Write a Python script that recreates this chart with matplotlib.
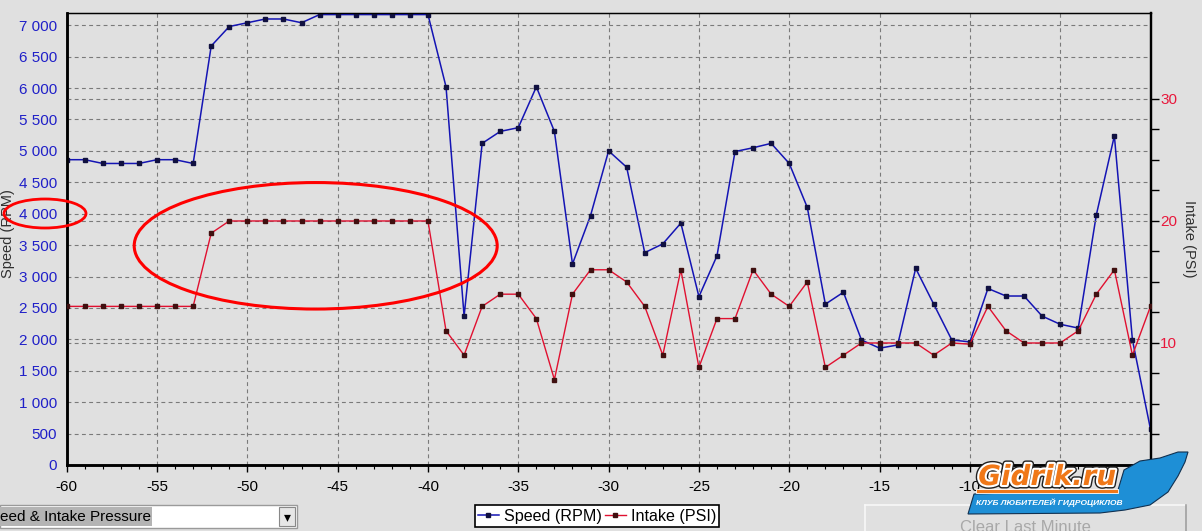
import matplotlib
matplotlib.use('Agg')
import matplotlib.pyplot as plt
import matplotlib.patheffects as pe
from matplotlib.ticker import MultipleLocator, FuncFormatter, FixedLocator
from matplotlib.patches import Ellipse, Rectangle, Polygon
from matplotlib.lines import Line2D

# ---------------- data ----------------
seconds = list(range(-60, 1))
speed_rpm = [4860, 4860, 4800, 4800, 4800, 4860, 4860, 4800, 6670, 6980,
             7040, 7100, 7100, 7040, 7170, 7170, 7170, 7170, 7170, 7170,
             7170, 6020, 2370, 5120, 5310, 5370, 6020, 5310, 3200, 3970,
             5000, 4740, 3380, 3520, 3850, 2680, 3330, 4990, 5050, 5120,
             4800, 4100, 2560, 2750, 1990, 1860, 1910, 3130, 2560, 1990,
             1960, 2810, 2690, 2690, 2370, 2240, 2180, 3980, 5240, 1990,
             570]
intake_psi = [13, 13, 13, 13, 13, 13, 13, 13, 19, 20,
              20, 20, 20, 20, 20, 20, 20, 20, 20, 20,
              20, 11, 9, 13, 14, 14, 12, 7, 14, 16,
              16, 15, 13, 9, 16, 8, 12, 12, 16, 14,
              13, 15, 8, 9, 10, 10, 10, 10, 9, 10,
              9.9, 13, 11, 10, 10, 10, 11, 14, 16, 9,
              13]
x_ticks = [-60, -55, -50, -45, -40, -35, -30, -25, -20, -15, -10, -5, 0]
rpm_ticks = list(range(0, 7001, 500))
psi_ticks = [10, 20, 30]
psi_minor_ticks = [2.5, 5, 7.5, 12.5, 15, 17.5, 22.5, 25, 27.5]
series_labels = ['Speed (RPM)', 'Intake (PSI)']

plt.rcParams['font.family'] = ['Liberation Sans', 'DejaVu Sans']
plt.rcParams['axes.unicode_minus'] = False

W, H = 1202, 531
BG = '#e0e0e0'
fig = plt.figure(figsize=(W / 100, H / 100), dpi=100, facecolor=BG)

def fx(px):
    return px / W

def fy(py):
    return 1 - py / H

L, R, T, B = 66.7, 1150.5, 12.7, 465.0
ax = fig.add_axes([fx(L), fy(B), fx(R) - fx(L), fy(T) - fy(B)], facecolor=BG)
ax2 = ax.twinx()

BLUE = '#1414b4'
RED = '#e01030'
blue_line, = ax.plot(seconds, speed_rpm, color=BLUE, lw=1.1, marker='s',
                     ms=2.6, mfc='#101040', mec='#101040', zorder=5)
red_line, = ax2.plot(seconds, intake_psi, color=RED, lw=1.0, marker='s',
                     ms=2.6, mfc='#401010', mec='#401010', zorder=5)

ax.set_xlim(-60, 0)
ax.set_ylim(0, 7200)
ax2.set_ylim(0, 37.07)

# grid
dash = (0, (3.5, 3.0))
for xv in x_ticks[1:-1]:
    ax.axvline(xv, color='#7a7a7a', lw=0.8, ls=dash, zorder=1)
for yv in rpm_ticks[1:]:
    ax.axhline(yv, color='#7a7a7a', lw=0.8, ls=dash, zorder=1)
for pv in psi_ticks:
    ax2.axhline(pv, color='#7a7a7a', lw=0.8, ls=dash, zorder=1)

# ticks
ax.xaxis.set_major_locator(FixedLocator(x_ticks))
ax.xaxis.set_minor_locator(MultipleLocator(1))
ax.tick_params(axis='x', which='major', length=5, width=1, direction='out',
               labelsize=11, labelcolor='black', pad=6)
ax.tick_params(axis='x', which='minor', length=3, width=0.8, direction='out')
ax.yaxis.set_major_locator(FixedLocator(rpm_ticks))
ax.yaxis.set_major_formatter(FuncFormatter(lambda v, p: f'{int(v):,}'.replace(',', ' ')))
ax.tick_params(axis='y', which='major', length=0, labelsize=11,
               labelcolor='#2020c8', pad=7)
ax2.yaxis.set_major_locator(FixedLocator(psi_ticks))
ax2.yaxis.set_minor_locator(FixedLocator(psi_minor_ticks))
ax2.tick_params(axis='y', which='major', length=6, width=1, direction='out',
                labelsize=11, labelcolor='#e8183c', pad=1)
ax2.tick_params(axis='y', which='minor', length=6, width=1, direction='out')

# axis titles
fig.text(fx(8), fy(234), 'Speed (RPM)', fontsize=10.5, color='#303030',
         rotation=90, ha='center', va='center')
fig.text(fx(1189), fy(239), 'Intake (PSI)', fontsize=10.5, color='#303030',
         rotation=270, ha='center', va='center')

for a in (ax, ax2):
    a.spines['left'].set_linewidth(1.8)
    a.spines['bottom'].set_linewidth(1.8)
    a.spines['right'].set_linewidth(1.6)
    a.spines['top'].set_linewidth(0.9)
    for s in a.spines.values():
        s.set_color('black')

# annotation ellipses (figure pixel geometry)
e1 = Ellipse((fx(45), fy(213.5)), 82 / W, 29 / H, transform=fig.transFigure,
             fill=False, edgecolor='#ff0000', lw=2.0, zorder=20)
e2 = Ellipse((fx(315.7), fy(245.8)), 363 / W, 126.5 / H,
             transform=fig.transFigure, fill=False, edgecolor='#ff0000',
             lw=2.2, zorder=20)
fig.add_artist(e1)
fig.add_artist(e2)

# legend box
leg = fig.legend([blue_line, red_line], series_labels, loc='center',
                 bbox_to_anchor=(fx(597), fy(516)), ncol=2, fancybox=False,
                 edgecolor='black', facecolor='white', framealpha=1,
                 handlelength=1.3, columnspacing=0.2, handletextpad=0.3,
                 borderpad=0.2, fontsize=11.6, markerscale=1.0)
leg.get_frame().set_linewidth(1.2)

# combo box (bottom left)
fig.add_artist(Rectangle((fx(0), fy(528)), fx(297), (528 - 505) / H,
                         transform=fig.transFigure, facecolor='white',
                         edgecolor='#9a9a9a', lw=1))
fig.add_artist(Rectangle((fx(0), fy(526)), fx(152), (526 - 507) / H,
                         transform=fig.transFigure, facecolor='#b4b4b4',
                         edgecolor='none'))
fig.text(fx(0), fy(517), 'eed & Intake Pressure', fontsize=11,
         color='black', va='center', ha='left')
fig.add_artist(Rectangle((fx(279), fy(526)), fx(16), (526 - 507) / H,
                         transform=fig.transFigure, facecolor='#e6e6e6',
                         edgecolor='#888888', lw=0.8))
fig.text(fx(287), fy(517), '▾', fontsize=10, color='black', va='center',
         ha='center', family='DejaVu Sans')

# "Clear Last Minute" button (cut by the window edge, as in the screenshot)
fig.add_artist(Line2D([fx(865), fx(1186)], [fy(505), fy(505)],
                      transform=fig.transFigure, color='#f8f8f8', lw=1.2))
fig.add_artist(Line2D([fx(865), fx(865)], [fy(505), fy(531)],
                      transform=fig.transFigure, color='#f8f8f8', lw=1.2))
fig.add_artist(Line2D([fx(1186), fx(1186)], [fy(505), fy(531)],
                      transform=fig.transFigure, color='#a0a0a0', lw=1.2))
fig.text(fx(1025), fy(520), 'Clear Last Minute', fontsize=12,
         color='#a8a8a8', va='top', ha='center')

# watermark logo
blue_shape = [(968, 514), (974, 494), (1118, 490), (1124, 470), (1140, 461),
              (1160, 458), (1178, 452), (1188, 452), (1185, 462), (1178, 476),
              (1168, 492), (1150, 505), (1125, 510), (1100, 513)]
fig.add_artist(Polygon([(fx(a), fy(b)) for a, b in blue_shape],
                       closed=True, transform=fig.transFigure,
                       facecolor='#1e8fd6', edgecolor='#103050', lw=0.8,
                       zorder=30))
fig.add_artist(Rectangle((fx(976), fy(493)), fx(142), 4 / H,
                         transform=fig.transFigure, facecolor='#f07818',
                         edgecolor='white', lw=0.6, zorder=31))
fig.text(fx(1047), fy(477), 'Gidrik.ru', fontsize=20, fontweight='bold',
         fontstyle='italic', color='#f07818', ha='center', va='center',
         zorder=32, family='DejaVu Sans',
         path_effects=[pe.Stroke(linewidth=5, foreground='#202020'),
                       pe.Stroke(linewidth=3, foreground='white'),
                       pe.Normal()])
fig.text(fx(1049), fy(503), 'КЛУБ ЛЮБИТЕЛЕЙ ГИДРОЦИКЛОВ', fontsize=6.0,
         fontweight='bold', fontstyle='italic', color='white', ha='center',
         va='center', zorder=32)

fig.savefig('out.png', dpi=100, facecolor=BG)
